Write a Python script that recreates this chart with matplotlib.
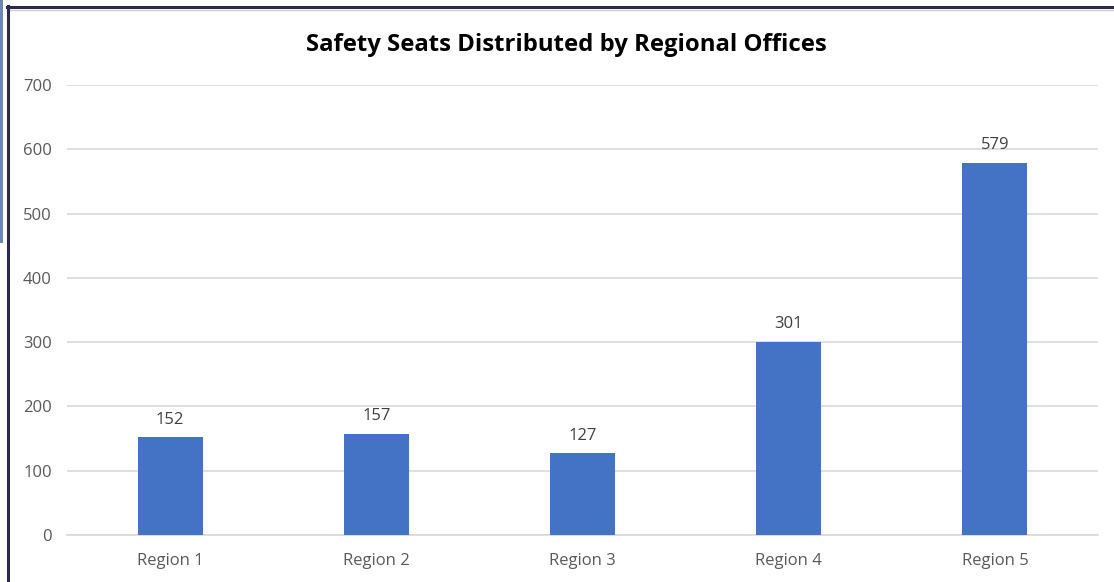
import matplotlib.pyplot as plt
from matplotlib.lines import Line2D
from matplotlib.patches import Rectangle

categories = ["Region 1", "Region 2", "Region 3", "Region 4", "Region 5"]
values = [152, 157, 127, 301, 579]
yticks = [0, 100, 200, 300, 400, 500, 600, 700]
title = "Safety Seats Distributed by Regional Offices"

W, H = 1114, 582
fig = plt.figure(figsize=(W / 100, H / 100), dpi=100)
fig.patch.set_facecolor("white")

# screenshot frame
fig.add_artist(Rectangle((0, 1 - 243 / H), 3 / W, 243 / H, transform=fig.transFigure,
                         facecolor="#6f86b5", edgecolor="none"))
fig.add_artist(Line2D([7 / W, 1], [1 - 7 / H, 1 - 7 / H], transform=fig.transFigure,
                      color="#2b2a4c", lw=2.2))
fig.add_artist(Line2D([8 / W, 1], [1 - 9.5 / H, 1 - 9.5 / H], transform=fig.transFigure,
                      color="#d0d0d0", lw=1))
fig.add_artist(Line2D([7.5 / W, 7.5 / W], [0, 1 - 6 / H], transform=fig.transFigure,
                      color="#2b2a4c", lw=2.2))

left, right = 67 / W, 1098 / W
bottom, top = (H - 535) / H, (H - 85) / H
ax = fig.add_axes([left, bottom, right - left, top - bottom])

x = list(range(len(categories)))
bars = ax.bar(x, values, width=0.315, color="#4472C4", zorder=3)
ax.set_xlim(-0.5, len(categories) - 0.5)
ax.set_ylim(0, 700)
ax.set_yticks(yticks)
ax.set_xticks(x)
ax.set_xticklabels(categories)
ax.grid(axis="y", color="#d9d9d9", lw=1.2, zorder=0)
for s in ["top", "right", "left"]:
    ax.spines[s].set_visible(False)
ax.spines["bottom"].set_color("#d9d9d9")
ax.spines["bottom"].set_linewidth(1.2)
ax.tick_params(axis="both", length=0, labelsize=12, labelcolor="#595959")
ax.tick_params(axis="y", pad=11)
ax.tick_params(axis="x", pad=13)
for t in ax.get_xticklabels() + ax.get_yticklabels():
    t.set_family("Open Sans")

for xi, v in zip(x, values):
    ax.annotate(str(v), (xi, v), xytext=(0, 7), textcoords="offset points",
                ha="center", va="bottom", fontsize=12, color="#404040", family="Open Sans")

fig.text(566 / W, 1 - 45 / H, title, ha="center", va="center", fontsize=17.2,
         fontweight="bold", color="black", family="Open Sans")

fig.savefig("out.png", dpi=100, facecolor="white")
